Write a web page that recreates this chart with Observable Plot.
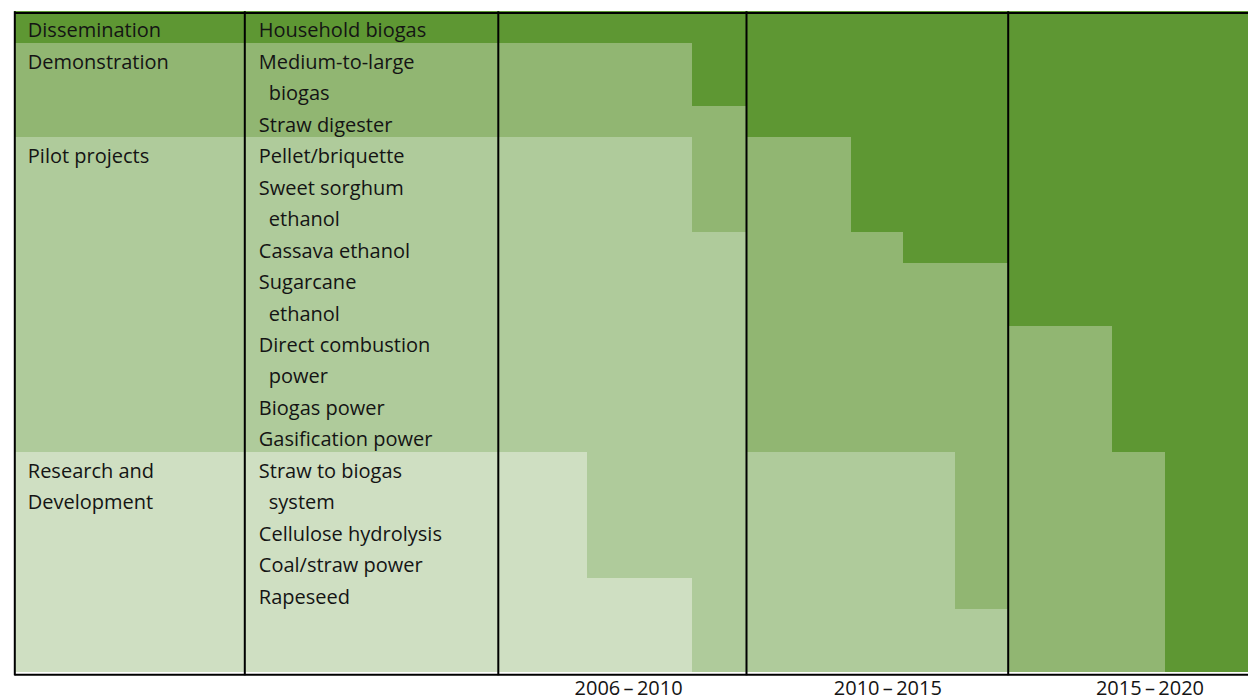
<!DOCTYPE html>
<html><head><meta charset="utf-8">
<script src="https://cdn.jsdelivr.net/npm/d3@7"></script>
<script src="https://cdn.jsdelivr.net/npm/@observablehq/plot@0.6"></script>
<style>
html,body{margin:0;padding:0;background:#fff;}
#chart svg{display:block;}
</style>
</head><body><div id="chart"></div>
<script>
// ---- data ----
const stageNames = ["Research and Development", "Pilot projects", "Demonstration", "Dissemination"];
const stageLabelLines = [["Research and", "Development"], ["Pilot projects"], ["Demonstration"], ["Dissemination"]];
const stageColors = ["#cfdfc2", "#afcb9b", "#91b672", "#5e9733"];

const techLines = [
  ["Household biogas"], ["Medium-to-large", "biogas"], ["Straw digester"],
  ["Pellet/briquette"], ["Sweet sorghum", "ethanol"], ["Cassava ethanol"],
  ["Sugarcane", "ethanol"], ["Direct combustion", "power"], ["Biogas power"],
  ["Gasification power"], ["Straw to biogas", "system"], ["Cellulose hydrolysis"],
  ["Coal/straw power"], ["Rapeseed"], []
];
const techRows       = [1, 2, 1, 1, 2, 1, 2, 2, 1, 1, 2, 1, 1, 1, 2];
const techStartStage = [3, 2, 2, 1, 1, 1, 1, 1, 1, 1, 0, 0, 0, 0, 0];
// year at which each technology moves to the next stage (null = not applicable)
const toPilotYear  = [null, null, null, null, null, null, null, null, null, null, 2007.44, 2007.44, 2007.44, 2009.13, 2009.13];
const toDemoYear   = [null, null, null, 2009.13, 2009.13, 2010, 2010, 2010, 2010, 2010, 2014, 2014, 2014, 2014, 2015];
const toDissemYear = [null, 2009.13, 2010, 2012, 2012, 2013, 2015, 2017.17, 2017.17, 2017.17, 2018.27, 2018.27, 2018.27, 2018.27, 2018.27];

const periodLabels = ["2006\u2009\u2013\u20092010", "2010\u2009\u2013\u20092015", "2015\u2009\u2013\u20092020"];
const periodBounds = [2006, 2010, 2015, 2020];
const periodLabelX = [2008.1, 2012.7, 2017.95];

// column keys on the x scale for the two label columns
const CAT_COL = 2000, TECH_COL = 2003;

// ---- derived tables ----
const cells = [], techText = [], catText = [], techBoundaries = [];
let row = 0;
techLines.forEach((lines, i) => {
  const r0 = row, r1 = row + techRows[i];
  const trans = [[toPilotYear[i], 1], [toDemoYear[i], 2], [toDissemYear[i], 3]]
    .filter(([y, s]) => y != null && s > techStartStage[i]);
  let x = CAT_COL, s = techStartStage[i];
  for (const [y, ns] of trans) { cells.push({x1: x, x2: y, y1: r0, y2: r1, stage: s}); x = y; s = ns; }
  cells.push({x1: x, x2: periodBounds[periodBounds.length - 1], y1: r0, y2: r1, stage: s});
  lines.forEach((t, k) => techText.push({x: TECH_COL, y: r0 + k + 0.5, text: t, cont: k > 0}));
  if (i === 0 || techStartStage[i] !== techStartStage[i - 1]) {
    stageLabelLines[techStartStage[i]].forEach((t, k) => catText.push({x: CAT_COL, y: r0 + k + 0.5, text: t}));
  }
  if (i > 0) techBoundaries.push(r0);
  row = r1;
});
const nRows = row;

const font = "'Open Sans', 'Noto Sans', sans-serif";
const ink = "#141414";
const chart = Plot.plot({
  width: 1248, height: 700,
  marginTop: 0, marginBottom: 0, marginLeft: 0, marginRight: 0,
  x: {type: "linear", domain: [CAT_COL, TECH_COL, ...periodBounds], range: [14.3, 244.3, 497.8, 746, 1007.7, 1248], axis: null},
  y: {domain: [0, nRows], range: [11.3, 672.3], axis: null},
  color: {type: "ordinal", domain: [0, 1, 2, 3], range: stageColors},
  style: {background: "#fff", fontFamily: font, overflow: "visible"},
  marks: [
    Plot.rect(cells, {x1: "x1", x2: "x2", y1: "y1", y2: "y2", fill: "stage", shapeRendering: "crispEdges"}),
    Plot.ruleX([CAT_COL, TECH_COL, ...periodBounds.slice(0, -1)], {y1: 0, y2: nRows, stroke: "#000", strokeWidth: 2, insetBottom: -3}),
    Plot.ruleY([0], {x1: CAT_COL, x2: 2020, stroke: "#000", strokeWidth: 2, dy: 1.2}),
    Plot.ruleY([nRows], {x1: CAT_COL, x2: 2020, stroke: "#000", strokeWidth: 2, dy: 2}),
    Plot.text(catText, {x: "x", y: "y", text: "text", textAnchor: "start", dx: 13, dy: 3.3, fontSize: 20, fill: ink}),
    Plot.text(techText.filter(d => !d.cont), {x: "x", y: "y", text: "text", textAnchor: "start", dx: 14, dy: 3.3, fontSize: 20, fill: ink}),
    Plot.text(techText.filter(d => d.cont), {x: "x", y: "y", text: "text", textAnchor: "start", dx: 24, dy: 3.3, fontSize: 20, fill: ink}),
    Plot.text(periodLabels.map((t, i) => ({t, x: periodLabelX[i]})), {x: "x", y: nRows, text: "t", lineAnchor: "top", dy: 8, fontSize: 20, fill: ink})
  ]
});
document.getElementById("chart").appendChild(chart);
</script>
</body></html>
